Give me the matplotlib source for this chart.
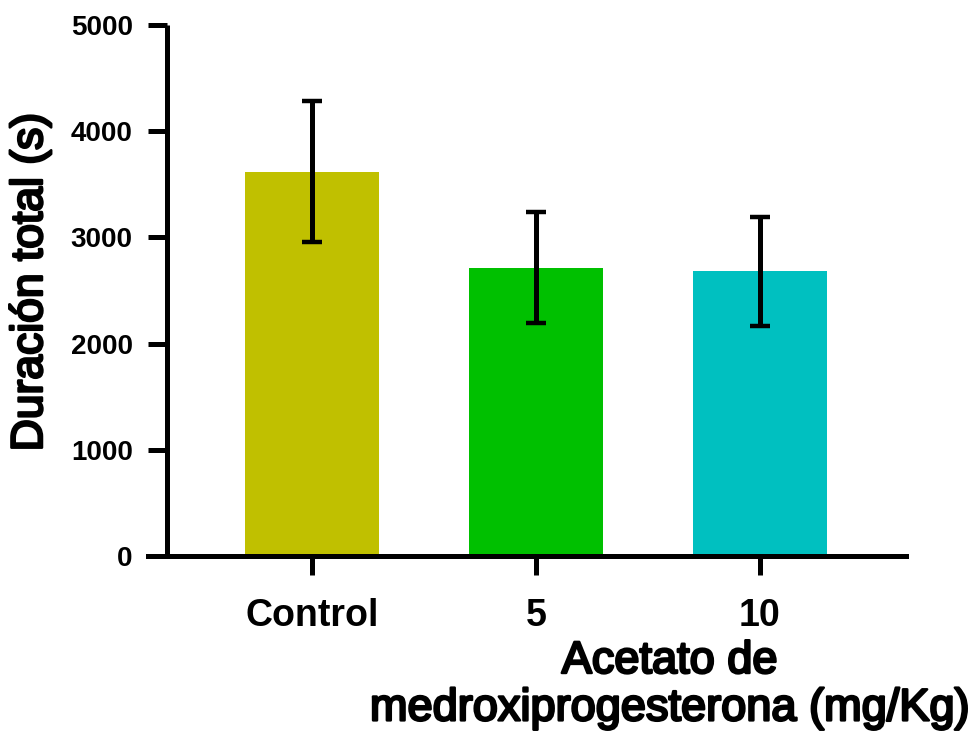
import numpy as np
import matplotlib
matplotlib.use('Agg')
import matplotlib.pyplot as plt
import matplotlib.patheffects as pe

# Duración total por grupo (media ± error)
grupos = ['Control', '5', '10']
duracion = [3620, 2715, 2680]
error = [660, 520, 515]
colores = ['#C0C000', '#00C000', '#00C0C0']

plt.rcParams['font.family'] = ['Liberation Sans', 'DejaVu Sans']
plt.rcParams['font.weight'] = 'bold'

fig = plt.figure(figsize=(9.77, 7.32), dpi=100)
W, H = 977, 732
ax = fig.add_axes([148 / W, (H - 556) / H, (906 - 148) / W, (556 - 25) / H])

x = np.arange(len(grupos))
ax.bar(x, duracion, width=0.6, color=colores, zorder=2)
ax.errorbar(x, duracion, yerr=error, fmt='none', ecolor='black',
            elinewidth=3.6, capsize=7.5, capthick=3.2, zorder=3)

ax.set_xlim(-0.732, 2.652)
ax.set_ylim(0, 5000)
ax.set_yticks([0, 1000, 2000, 3000, 4000, 5000])
ax.set_xticks(x)
ax.set_xticklabels(grupos)

for s in ['top', 'right']:
    ax.spines[s].set_visible(False)
ax.spines['left'].set_position(('data', -0.647))
ax.spines['left'].set_linewidth(3.6)
ax.spines['bottom'].set_linewidth(3.6)
ax.spines['left'].set_capstyle('butt')

ax.tick_params(axis='y', direction='out', length=13.7, width=3.6,
               pad=11, labelsize=20)
ax.tick_params(axis='x', direction='out', length=14, width=3.6,
               pad=16, labelsize=27)

# trazo extra para engrosar los títulos de los ejes
grueso = [pe.withStroke(linewidth=1.8, foreground='black')]
ylab = ax.set_ylabel('Duración total (s)', fontsize=32, va='center')
ylab.set_path_effects(grueso)
ax.yaxis.set_label_coords(-0.156, 0.516)
xlab = ax.set_xlabel('Acetato de\nmedroxiprogesterona (mg/Kg)', fontsize=32.5,
                     ha='center', va='top', linespacing=1.2)
xlab.set_path_effects(grueso)
ax.xaxis.set_label_coords(0.688, -0.16)

fig.savefig('out.png', dpi=100)
